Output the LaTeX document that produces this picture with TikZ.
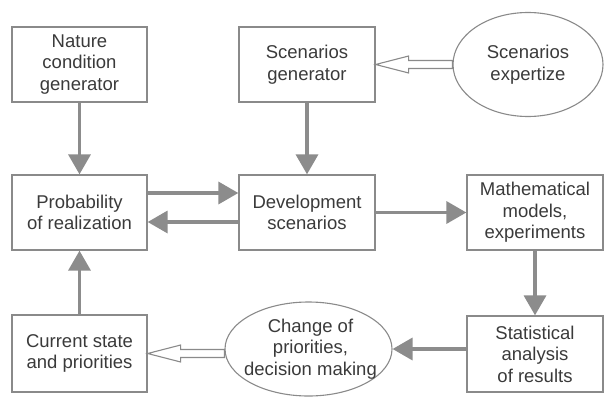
\documentclass[tikz,border=0pt]{standalone}
\usepackage{fontspec}
\setmainfont{Liberation Sans}
\usetikzlibrary{shapes.geometric,arrows.meta,calc}
\definecolor{ln}{HTML}{8A8A8A}
\definecolor{ar}{HTML}{8C8C8C}
\definecolor{tx}{HTML}{3A3A3A}
\begin{document}
\begin{tikzpicture}[x=1bp,y=1bp,
  txt/.style={text=tx, align=center, font=\fontsize{18.5bp}{21.5bp}\selectfont},
  box/.style={txt, draw=ln, line width=1.3bp, minimum width=135bp, minimum height=75bp, inner sep=0pt},
  ell/.style={ellipse, draw=ln, line width=1.1bp, inner sep=0pt},
  arr/.style={draw=ar, line width=3.5bp, -{Triangle[length=20bp,width=22bp]}},
  hol/.style={draw=ln, line width=1.1bp, fill=white, line join=miter}]
\useasboundingbox (0,0) rectangle (605,398);
% boxes
\node[box] (nat) at (79.5,333.5) {Nature\\condition\\generator};
\node[box, minimum width=136bp] (sg) at (307,333.5) {Scenarios\\generator};
\node[ell, minimum width=150bp, minimum height=104bp,
      label={[txt]center:Scenarios\\expertize}] (exp) at (528,333.5) {};
\node[box] (prob) at (79.5,185.5) {Probability\\of realization};
\node[box, minimum width=136bp] (dev) at (307,185.5) {Development\\scenarios};
\node[box, minimum width=136bp] (math) at (535,185.5) {Mathematical\\models,\\experiments};
\node[box, minimum height=77bp] (cur) at (79.5,44.5) {Current state\\and priorities};
\node[box, minimum width=136bp, minimum height=76bp] (stat) at (535,44) {Statistical\\analysis\\of results};
\node[ell, minimum width=167bp, minimum height=94bp,
      label={[txt, xshift=2bp]center:Change of\\priorities,\\decision making}] (chg) at (308.5,49) {};
% filled arrows
\draw[arr] (nat) -- (prob);
\draw[arr] (sg) -- (dev);
\draw[arr] (math) -- (stat);
\draw[arr] (cur) -- (prob);
\draw[arr] ([yshift=19.5bp]prob.east) -- ([yshift=19.5bp]dev.west);
\draw[arr] ([yshift=-9.5bp]dev.west) -- ([yshift=-9.5bp]prob.east);
\draw[arr] (dev) -- (math);
\draw[arr] (stat.west |- chg.east) -- (chg.east);
% hollow arrows
\draw[hol] (sg.east) -- ($(sg.east)+(33,8.5)$) -- ($(sg.east)+(33,4)$)
  -- ($(exp.west)+(0,4)$) -- ($(exp.west)+(0,-4)$)
  -- ($(sg.east)+(33,-4)$) -- ($(sg.east)+(33,-8.5)$) -- cycle;
\draw[hol] (cur.east) -- ($(cur.east)+(33,8.5)$) -- ($(cur.east)+(33,4)$)
  -- ($(chg.west |- cur.east)+(0,4)$) -- ($(chg.west |- cur.east)+(0,-4)$)
  -- ($(cur.east)+(33,-4)$) -- ($(cur.east)+(33,-8.5)$) -- cycle;
\end{tikzpicture}
\end{document}
